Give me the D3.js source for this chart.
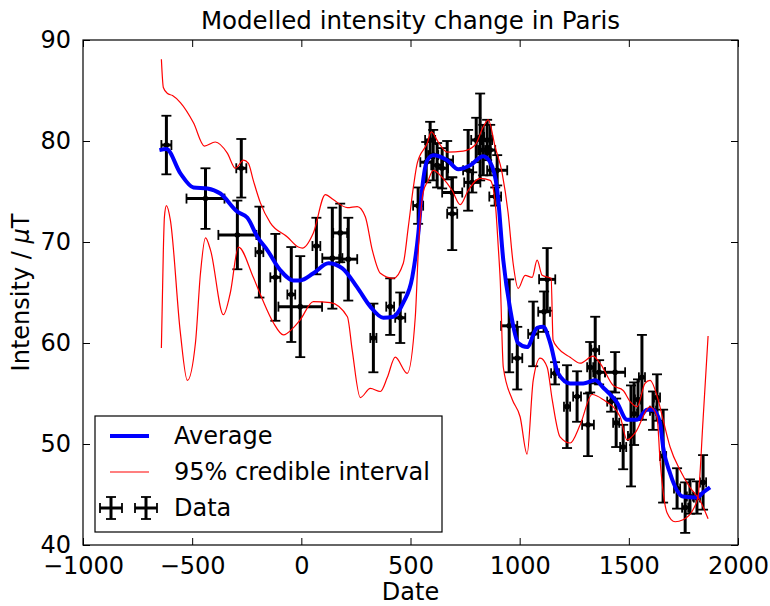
<!DOCTYPE html>
<html>
<head>
<meta charset="utf-8">
<script src="https://cdn.jsdelivr.net/npm/d3@7"></script>
<style>
  body { margin: 0; background: #fff; }
  text { font-family: "DejaVu Sans", sans-serif; }
</style>
</head>
<body>
<svg id="chart" width="770" height="606"></svg>
<script>
/* Modelled intensity change - line + errorbar chart */

//* Data *//

// posterior average
const avgDate = [-650, -618, -554, -494, -430, -371, -293, -247, -201, -156, -96, -37, -5, 55, 124, 188, 256, 316, 375, 421, 467, 508, 536, 554, 577, 604, 668, 719, 774, 833, 865, 897, 925, 957, 993, 1034, 1080, 1108, 1140, 1176, 1231, 1291, 1346, 1382, 1446, 1492, 1538, 1584, 1611, 1643, 1657, 1689, 1748, 1812, 1840, 1872];
const avgValue = [79.1, 79.2, 76.8, 75.4, 75.3, 74.8, 73.0, 72.4, 70.5, 69.2, 67.2, 66.2, 66.2, 66.9, 67.9, 67.4, 65.5, 63.6, 62.5, 62.6, 64.0, 66.5, 70.9, 75.4, 78.1, 78.6, 78.1, 77.2, 77.6, 78.5, 77.9, 75.2, 68.2, 63.3, 60.0, 59.6, 61.5, 61.6, 60.0, 57.0, 56.0, 56.0, 56.3, 55.6, 54.1, 52.4, 52.4, 53.4, 53.4, 52.1, 49.7, 47.1, 44.8, 44.7, 45.2, 45.7];

// credible interval, first line (starts on top)
const ciUpDate = [-641, -632, -613, -590, -554, -494, -444, -394, -339, -302, -265, -243, -220, -188, -142, -64, -14, 5, 55, 110, 146, 211, 256, 293, 325, 362, 421, 467, 490, 513, 531, 577, 595, 627, 668, 741, 796, 833, 856, 888, 920, 947, 970, 993, 1025, 1057, 1080, 1103, 1144, 1153, 1176, 1231, 1277, 1336, 1368, 1428, 1474, 1506, 1538, 1574, 1597, 1634, 1657, 1689, 1735, 1780, 1826, 1863];
const ciUpValue = [88.1, 85.3, 84.7, 84.5, 83.8, 81.8, 79.5, 79.9, 78.8, 77.3, 78.1, 77.8, 76.1, 73.9, 71.9, 70.5, 69.5, 69.4, 70.9, 74.7, 74.2, 73.4, 73.5, 72.5, 69.2, 66.9, 66.4, 67.9, 71.5, 75.4, 77.8, 79.8, 80.9, 79.9, 78.9, 79.0, 79.6, 81.4, 82.1, 79.4, 76.8, 72.9, 67.9, 65.4, 66.7, 66.5, 68.2, 66.7, 66.4, 60.3, 59.5, 58.6, 58.0, 58.7, 58.0, 55.8, 55.3, 54.2, 53.7, 56.0, 56.3, 54.4, 52.4, 49.7, 47.4, 45.7, 44.4, 42.6];

// credible interval, second line (starts below)
const ciLowDate = [-641, -632, -627, -618, -600, -554, -522, -485, -462, -439, -416, -357, -325, -288, -220, -178, -128, -82, -37, -5, 55, 133, 211, 233, 270, 316, 362, 394, 430, 485, 522, 536, 558, 581, 604, 645, 691, 728, 764, 819, 865, 888, 902, 911, 925, 966, 1002, 1034, 1062, 1094, 1126, 1149, 1185, 1231, 1277, 1332, 1382, 1460, 1492, 1529, 1597, 1629, 1643, 1675, 1712, 1748, 1794, 1817, 1840, 1863];
const ciLowValue = [59.5, 69.2, 72.5, 73.6, 72.2, 61.0, 56.3, 60.0, 66.9, 70.4, 69.2, 62.8, 65.0, 69.5, 66.5, 64.3, 62.0, 60.8, 61.5, 62.3, 64.1, 64.0, 62.6, 59.3, 54.6, 55.5, 55.2, 56.6, 58.6, 57.0, 62.6, 69.2, 74.9, 76.1, 77.1, 76.4, 75.1, 73.7, 75.1, 76.3, 76.1, 73.9, 69.5, 66.2, 57.6, 54.4, 52.7, 49.0, 56.3, 58.5, 57.6, 54.4, 50.7, 50.1, 51.9, 54.9, 54.4, 52.7, 50.4, 51.1, 53.7, 52.7, 48.4, 43.2, 42.3, 42.5, 43.5, 44.8, 52.4, 60.7];

// archaeomagnetic data with errors
const dataDate = [-618, -439, -275, -293, -192, -119, -46, -5, 69, 142, 178, 215, 330, 407, 453, 535, 572, 590, 604, 622, 645, 668, 691, 691, 764, 783, 801, 819, 833, 851, 865, 897, 888, 952, 989, 1062, 1126, 1112, 1162, 1217, 1263, 1313, 1323, 1346, 1364, 1437, 1419, 1442, 1474, 1510, 1524, 1542, 1560, 1611, 1629, 1657, 1721, 1758, 1780, 1812, 1840];
const dataDateErr = [23, 87, 23, 87, 18, 23, 18, 100, 18, 46, 32, 41, 14, 18, 23, 23, 27, 23, 23, 27, 27, 27, 46, 23, 23, 37, 23, 18, 23, 23, 23, 46, 27, 37, 23, 23, 37, 27, 18, 14, 18, 27, 14, 18, 27, 46, 18, 14, 14, 14, 14, 14, 14, 14, 14, 14, 14, 14, 14, 14, 14];
const dataValue = [79.6, 74.3, 77.3, 70.7, 69.0, 66.5, 64.8, 63.6, 69.6, 68.4, 70.9, 68.3, 60.5, 63.6, 62.5, 73.6, 77.9, 80.1, 78.6, 77.6, 77.3, 78.1, 74.9, 72.8, 77.1, 75.9, 80.1, 80.4, 79.1, 80.1, 79.1, 77.1, 74.5, 61.7, 58.5, 60.9, 66.3, 63.1, 57.0, 53.7, 54.7, 51.9, 57.6, 59.3, 57.1, 57.1, 54.2, 52.1, 49.7, 50.8, 53.0, 54.4, 56.6, 53.3, 54.6, 48.8, 45.6, 43.7, 44.8, 44.7, 46.2];
const dataValueErr = [2.9, 3.0, 2.9, 3.4, 4.5, 4.3, 4.7, 5.0, 2.8, 5.0, 2.9, 4.1, 3.4, 2.8, 2.5, 1.8, 2.0, 1.8, 2.5, 2.2, 2.0, 1.9, 1.5, 3.6, 4.0, 1.0, 2.2, 4.3, 2.5, 2.0, 2.5, 1.5, 0.9, 4.6, 3.1, 3.2, 3.1, 2.0, 1.1, 4.1, 2.5, 3.1, 2.5, 3.3, 1.2, 2.0, 1.0, 2.4, 2.2, 5.0, 3.1, 2.0, 4.2, 1.9, 2.3, 4.6, 2.0, 2.5, 1.7, 1.6, 2.7];

const xTicks = [-1000, -500, 0, 500, 1000, 1500, 2000];
const yTicks = [40, 50, 60, 70, 80, 90];
const legendLabels = ["Average", "95% credible interval", "Data"];

//* Chart setup *//

const svg = d3.select("#chart"),
    margin = {top: 40, right: 32, bottom: 61, left: 83},
    width = 770 - margin.left - margin.right,
    height = 606 - margin.top - margin.bottom,
    g = svg.append("g").attr("transform", "translate(" + margin.left + "," + margin.top + ")");

const x = d3.scaleLinear().domain([-1000, 2000]).range([0, width]);
const y = d3.scaleLinear().domain([40, 90]).range([height, 0]);

g.append("clipPath").attr("id", "clip")
    .append("rect").attr("width", width).attr("height", height);

const plot = g.append("g").attr("clip-path", "url(#clip)");

//* Error bars *//
const pts = dataDate.map(function(d, i) {
    return {date: d, dx: dataDateErr[i], v: dataValue[i], dv: dataValueErr[i]};
});
const cap = 5;
const barW = 3, capW = 1.8;
const eb = plot.append("g").attr("stroke", "#000");
pts.forEach(function(p) {
    const cx = x(p.date), cy = y(p.v);
    const x0 = x(p.date - p.dx), x1 = x(p.date + p.dx);
    const y0 = y(p.v - p.dv), y1 = y(p.v + p.dv);
    eb.append("line").attr("x1", cx).attr("x2", cx).attr("y1", y0).attr("y2", y1).attr("stroke-width", barW);
    eb.append("line").attr("x1", x0).attr("x2", x1).attr("y1", cy).attr("y2", cy).attr("stroke-width", barW);
    // caps
    eb.append("line").attr("x1", cx - cap).attr("x2", cx + cap).attr("y1", y0).attr("y2", y0).attr("stroke-width", capW);
    eb.append("line").attr("x1", cx - cap).attr("x2", cx + cap).attr("y1", y1).attr("y2", y1).attr("stroke-width", capW);
    eb.append("line").attr("x1", x0).attr("x2", x0).attr("y1", cy - cap).attr("y2", cy + cap).attr("stroke-width", capW);
    eb.append("line").attr("x1", x1).attr("x2", x1).attr("y1", cy - cap).attr("y2", cy + cap).attr("stroke-width", capW);
    eb.append("circle").attr("cx", cx).attr("cy", cy).attr("r", 2.8).attr("fill", "#000").attr("stroke", "none");
});

//* Lines *//
const line = d3.line()
    .x(function(d) { return x(d[0]); })
    .y(function(d) { return y(d[1]); })
    .curve(d3.curveMonotoneX);

plot.append("path")
    .datum(avgDate.map(function(d, i) { return [d, avgValue[i]]; }))
    .attr("d", line).attr("fill", "none").attr("stroke", "#0000ff").attr("stroke-width", 4);

plot.append("path")
    .datum(ciUpDate.map(function(d, i) { return [d, ciUpValue[i]]; }))
    .attr("d", line).attr("fill", "none").attr("stroke", "#ff0000").attr("stroke-width", 1.2);

plot.append("path")
    .datum(ciLowDate.map(function(d, i) { return [d, ciLowValue[i]]; }))
    .attr("d", line).attr("fill", "none").attr("stroke", "#ff0000").attr("stroke-width", 1.2);

//* Axes (ticks inside, all four sides) *//
const tickLen = 7;
const fmt = d3.format("d");
const xAxisCall = d3.axisBottom(x).tickValues(xTicks).tickFormat(fmt).tickSizeInner(-tickLen).tickSizeOuter(0).tickPadding(12);
const yAxisCall = d3.axisLeft(y).tickValues(yTicks).tickFormat(fmt).tickSizeInner(-tickLen).tickSizeOuter(0).tickPadding(12);

const xAxisApp = g.append("g").attr("transform", "translate(0," + height + ")").call(xAxisCall);
const yAxisApp = g.append("g").call(yAxisCall);
g.append("g").call(d3.axisTop(x).tickValues(xTicks).tickSizeInner(-tickLen).tickSizeOuter(0).tickFormat(""));
g.append("g").attr("transform", "translate(" + width + ",0)")
    .call(d3.axisRight(y).tickValues(yTicks).tickSizeInner(-tickLen).tickSizeOuter(0).tickFormat(""));

g.selectAll(".domain").remove();
g.selectAll(".tick line").attr("stroke", "#000");
xAxisApp.selectAll("text").attr("font-size", "24px").attr("fill", "#000");
yAxisApp.selectAll("text").attr("font-size", "24px").attr("fill", "#000");

// frame
g.append("rect").attr("width", width).attr("height", height)
    .attr("fill", "none").attr("stroke", "#000").attr("stroke-width", 1.2);

//* Labels *//
g.append("text")
    .attr("x", width / 2).attr("y", -11)
    .attr("text-anchor", "middle").attr("font-size", "24.5px")
    .text("Modelled intensity change in Paris");

g.append("text")
    .attr("x", width / 2).attr("y", height + 55)
    .attr("text-anchor", "middle").attr("font-size", "24px")
    .text("Date");

const yLabel = g.append("text")
    .attr("transform", "rotate(-90)")
    .attr("x", -height / 2).attr("y", -54)
    .attr("text-anchor", "middle").attr("font-size", "24px");
yLabel.append("tspan").text("Intensity / ");
yLabel.append("tspan").attr("font-style", "italic").text("\u03bc");
yLabel.append("tspan").text("T");

//* Legend *//
const legend = g.append("g").attr("transform", "translate(12,376)");
legend.append("rect").attr("width", 347).attr("height", 116)
    .attr("fill", "#fff").attr("stroke", "#000").attr("stroke-width", 1.2);

const rows = legend.selectAll("g.row")
    .data(legendLabels)
    .enter().append("g").attr("class", "row")
    .attr("transform", function(d, i) { return "translate(0," + (20 + i * 36) + ")"; });

rows.append("text")
    .attr("x", 79).attr("dy", "0.35em")
    .attr("font-size", "24px")
    .text(function(d) { return d; });

legend.append("line").attr("x1", 15).attr("x2", 54).attr("y1", 20).attr("y2", 20)
    .attr("stroke", "#0000ff").attr("stroke-width", 4);
legend.append("line").attr("x1", 15).attr("x2", 54).attr("y1", 56).attr("y2", 56)
    .attr("stroke", "#ff0000").attr("stroke-width", 1.2);

[16, 51].forEach(function(cx) {
    const cy = 92, h = 11;
    const k = legend.append("g").attr("stroke", "#000");
    k.append("line").attr("x1", cx).attr("x2", cx).attr("y1", cy - h).attr("y2", cy + h).attr("stroke-width", barW);
    k.append("line").attr("x1", cx - h).attr("x2", cx + h).attr("y1", cy).attr("y2", cy).attr("stroke-width", barW);
    k.append("line").attr("x1", cx - cap).attr("x2", cx + cap).attr("y1", cy - h).attr("y2", cy - h).attr("stroke-width", capW);
    k.append("line").attr("x1", cx - cap).attr("x2", cx + cap).attr("y1", cy + h).attr("y2", cy + h).attr("stroke-width", capW);
    k.append("line").attr("x1", cx - h).attr("x2", cx - h).attr("y1", cy - cap).attr("y2", cy + cap).attr("stroke-width", capW);
    k.append("line").attr("x1", cx + h).attr("x2", cx + h).attr("y1", cy - cap).attr("y2", cy + cap).attr("stroke-width", capW);
});
</script>
</body>
</html>
